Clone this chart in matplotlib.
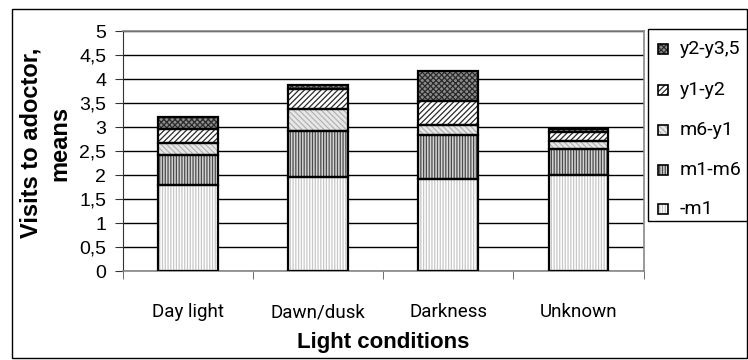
import matplotlib
matplotlib.use("Agg")
import matplotlib.pyplot as plt
import numpy as np
from matplotlib.patches import Rectangle
from matplotlib.font_manager import fontManager

plt.rcParams['font.family'] = ['Liberation Sans', 'DejaVu Sans']
plt.rcParams['hatch.linewidth'] = 0.9

names = {f.name for f in fontManager.ttflist}
narrow = 'Liberation Sans Narrow' if 'Liberation Sans Narrow' in names else (
    'Roboto' if 'Roboto' in names else 'Liberation Sans')

categories = ["Day light", "Dawn/dusk", "Darkness", "Unknown"]
series_names = ["-m1", "m1-m6", "m6-y1", "y1-y2", "y2-y3,5"]
m1 = [1.79, 1.96, 1.92, 2.00]
m1_m6 = [0.63, 0.96, 0.91, 0.55]
m6_y1 = [0.25, 0.455, 0.22, 0.16]
y1_y2 = [0.29, 0.415, 0.49, 0.20]
y2_y35 = [0.26, 0.10, 0.63, 0.05]
series_values = [m1, m1_m6, m6_y1, y1_y2, y2_y35]
yticks = [0, 0.5, 1, 1.5, 2, 2.5, 3, 3.5, 4, 4.5, 5]
ytick_labels = ["0", "0,5", "1", "1,5", "2", "2,5", "3", "3,5", "4", "4,5", "5"]

styles = [
    dict(face="white", hatch="||||||", hcol="#c8c8c8"),
    dict(face="#d4d4d4", hatch="||||||", hcol="#4a4a4a"),
    dict(face="#e8e8e8", hatch="\\\\\\\\\\\\", hcol="#b4b4b4"),
    dict(face="white", hatch="//////", hcol="#2a2a2a"),
    dict(face="#8c8c8c", hatch="xxxxxx", hcol="#2a2a2a"),
]

W, H = 748, 360
fig = plt.figure(figsize=(W / 100, H / 100), dpi=100)


def fx(px):
    return px / W


def fy(py):
    return 1 - py / H


fig.patches.append(Rectangle((fx(12), fy(358)), fx(747) - fx(12), fy(9) - fy(358),
                             transform=fig.transFigure, fill=False,
                             edgecolor="black", linewidth=1.0))
ax = fig.add_axes([fx(123), fy(271.3), fx(643.5) - fx(123), fy(31.3) - fy(271.3)])

x = np.arange(len(categories))
bottom = np.zeros(len(categories))
width = 0.46
for name, vals, st in zip(series_names, series_values, styles):
    ax.bar(x, vals, width, bottom=bottom, color=st["face"], hatch=st["hatch"],
           edgecolor=st["hcol"], linewidth=0, zorder=3)
    ax.bar(x, vals, width, bottom=bottom, fill=False, edgecolor="black",
           linewidth=1.6, zorder=4)
    bottom = bottom + np.array(vals)

ax.set_xlim(-0.5, len(categories) - 0.5)
ax.set_ylim(0, 5)
ax.set_yticks(yticks)
ax.set_yticklabels(ytick_labels, fontsize=14)
ax.yaxis.grid(True, color="black", linewidth=1.0, zorder=0)
ax.set_axisbelow(True)
ax.set_xticks(x)
ax.set_xticklabels(categories, fontsize=13.5, family=[narrow, 'DejaVu Sans'])
ax.tick_params(axis="x", length=0, pad=23)
ax.set_xticks(np.arange(-0.5, len(categories)), minor=True)
ax.tick_params(axis="x", which="minor", length=6, direction="out", color="#555555")
ax.tick_params(axis="y", length=6, direction="out", pad=6, color="#333333")
for s in ["top", "right", "bottom"]:
    ax.spines[s].set_color("#888888")
    ax.spines[s].set_linewidth(1.2)
ax.spines["left"].set_color("#333333")

fig.text(fx((123 + 643.5) / 2), fy(348), "Light conditions", fontsize=16,
         fontweight="bold", ha="center", va="baseline")
fig.text(fx(45.5), fy(143), "Visits to adoctor,\nmeans", fontsize=17,
         fontweight="bold", ha="center", va="center", rotation=90,
         multialignment="center", linespacing=1.3)

# legend box
fig.patches.append(Rectangle((fx(648), fy(221)), fx(747) - fx(648), fy(29) - fy(221),
                             transform=fig.transFigure, facecolor="white",
                             edgecolor="black", linewidth=1.0, zorder=5))
entry_y = [49, 90, 130, 170, 209]
for yy, name, st in zip(entry_y, series_names[::-1], styles[::-1]):
    fig.patches.append(Rectangle((fx(658), fy(yy + 5)), fx(668) - fx(658), fy(yy - 5) - fy(yy + 5),
                                 transform=fig.transFigure, facecolor=st["face"],
                                 hatch=st["hatch"], edgecolor=st["hcol"], linewidth=0, zorder=6))
    fig.patches.append(Rectangle((fx(658), fy(yy + 5)), fx(668) - fx(658), fy(yy - 5) - fy(yy + 5),
                                 transform=fig.transFigure, fill=False,
                                 edgecolor="black", linewidth=1.2, zorder=7))
    fig.text(fx(680), fy(yy), name, fontsize=14, family=[narrow, 'DejaVu Sans'],
             ha="left", va="center", zorder=8)

fig.savefig("out.png", dpi=100)
